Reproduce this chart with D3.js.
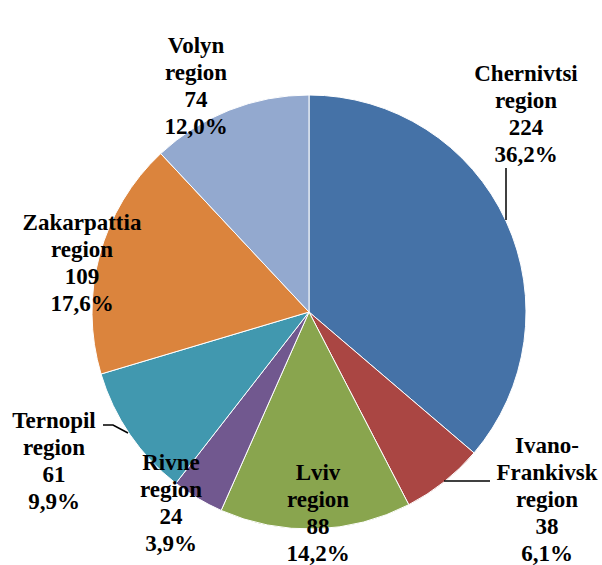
<!DOCTYPE html>
<html><head><meta charset="utf-8">
<script src="https://cdn.jsdelivr.net/npm/d3@7"></script>
</head><body style="margin:0">
<svg id="c" width="602" height="565"></svg>
<script>
const categories = ["Chernivtsi region", "Ivano-Frankivsk region", "Lviv region", "Rivne region", "Ternopil region", "Zakarpattia region", "Volyn region"];
const values = [224, 38, 88, 24, 61, 109, 74];
const percents = ["36,2%", "6,1%", "14,2%", "3,9%", "9,9%", "17,6%", "12,0%"];
const labelLines = [
  ["Chernivtsi", "region"],
  ["Ivano-", "Frankivsk", "region"],
  ["Lviv", "region"],
  ["Rivne", "region"],
  ["Ternopil", "region"],
  ["Zakarpattia", "region"],
  ["Volyn", "region"]
];
const colors = ["#4572A7", "#AA4643", "#89A54E", "#71588F", "#4198AF", "#DB843D", "#93A9CF"];

// layout (label anchor: x center, y of first line baseline)
const labelAnchors = [[526, 81], [547, 453], [318, 480], [171, 470], [54, 428], [82, 230], [196, 53]];
const leaders = [
  [[506, 168], [506, 220]],
  [[490, 481], [444, 481]],
  null, null,
  [[103, 425], [113, 425], [128, 433]],
  null, null
];

const svg = d3.select("#c");
const cx = 309, cy = 312, R = 217;
const pie = d3.pie().sort(null).value(d => d)(values);
const arc = d3.arc().innerRadius(0).outerRadius(R);

const g = svg.append("g").attr("transform", `translate(${cx},${cy})`);
g.selectAll("path").data(pie).enter().append("path")
  .attr("d", arc)
  .attr("fill", (d, i) => colors[i])
  .attr("stroke", "#fff")
  .attr("stroke-width", 1);

const line = d3.line();
leaders.forEach(l => {
  if (!l) return;
  svg.append("path").attr("d", line(l)).attr("fill", "none")
    .attr("stroke", "#000").attr("stroke-width", 1.5);
});

const lh = 27;
categories.forEach((c, i) => {
  const lines = labelLines[i].concat([String(values[i]), percents[i]]);
  lines.forEach((s, k) => {
    svg.append("text")
      .attr("x", labelAnchors[i][0]).attr("y", labelAnchors[i][1] + k * lh)
      .style("font-family", '"Liberation Serif", "Nimbus Roman", Times, sans-serif')
      .style("font-weight", "bold")
      .style("font-size", "23px")
      .style("text-anchor", "middle")
      .text(s);
  });
});
</script>
</body></html>
